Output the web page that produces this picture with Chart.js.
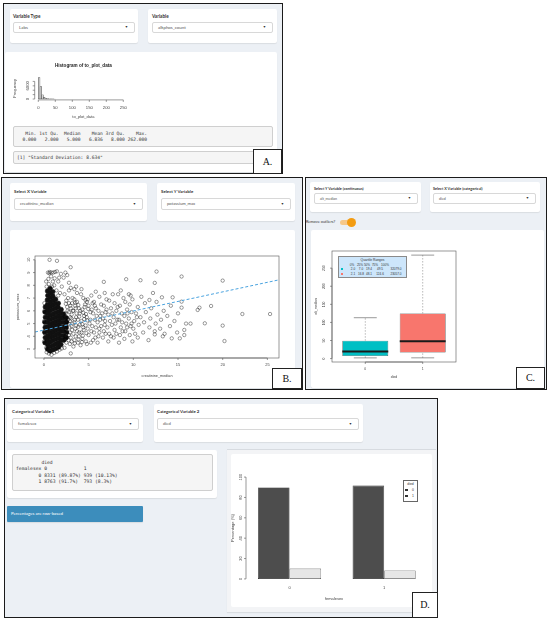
<!DOCTYPE html>
<html>
<head>
<meta charset="utf-8">
<script src="https://cdn.jsdelivr.net/npm/chart.js@4.4.0/dist/chart.umd.min.js"></script>
<style>
  html, body { margin: 0; padding: 0; background: #fff; }
  #page { position: relative; width: 550px; height: 623px; overflow: hidden; font-family: Lato, "Open Sans", sans-serif; color: #333; }
  #page div, #page canvas { position: absolute; box-sizing: border-box; }
  .panel { border: 1.5px solid #1b1b1b; background: #ecf0f5; }
  .card { background: #fff; border-radius: 2px; box-shadow: 0 1px 1px rgba(0,0,0,.08); }
  .lbl { font-weight: 700; white-space: nowrap; color: #333; }
  .sel { border: 1px solid #d8d8d8; border-radius: 2px; background: #fff; padding-left: 5px; color: #555; white-space: nowrap; }
  .sel::after { content: "\25BC"; position: absolute; right: 6px; top: 0; font-size: 3.4px; color: #333; }
  .pre { background: #f5f5f5; border: 0.8px solid #cfcfcf; border-radius: 2px; font-family: "DejaVu Sans Mono", monospace; white-space: pre; color: #333; }
  .tag { background: #fff; border: 1px solid #222; font-family: "Liberation Serif", serif; font-size: 10px; text-align: center; color: #111; }
  .t { white-space: nowrap; transform: translate(-50%, -50%); font-family: "Liberation Sans", Arial, sans-serif; color: #333; }
</style>
</head>
<body>
<div id="page"></div>
<script>
// ---------- A: histogram + summary ----------
const histMids = [2.5, 7.5, 12.5, 17.5, 22.5, 27.5, 32.5, 37.5, 42.5, 47.5];
const histCounts = [9700, 5600, 1900, 750, 360, 190, 110, 70, 45, 30];
const histXTicks = [0, 50, 100, 150, 200, 250];
const histYTicks = [0, 2000, 4000, 6000, 8000];
const histYLabels = ["0", "", "", "6000", ""];
const summaryNames = ["Min.", "1st Qu.", "Median", "Mean", "3rd Qu.", "Max."];
const summaryValues = ["0.000", "2.000", "5.000", "6.836", "8.000", "262.000"];
const sdValue = "8.634";

// ---------- B: scatter creatinine_median vs potassium_max ----------
// heavily overplotted core (drawn solid)
const kDense = [
  [0.12,3.5],[0.15,3.9],[0.1,4.3],[0.14,4.7],[0.11,5.1],[0.16,5.5],[0.12,5.9],[0.15,6.3],
  [0.4,3.0],[0.42,3.35],[0.38,3.7],[0.44,4.05],[0.4,4.4],[0.43,4.75],[0.39,5.1],[0.42,5.45],[0.4,5.8],[0.44,6.15],[0.41,6.5],[0.38,6.85],[0.43,7.2],[0.4,7.55],
  [0.7,2.85],[0.72,3.2],[0.68,3.55],[0.71,3.9],[0.74,4.25],[0.69,4.6],[0.72,4.95],[0.7,5.3],[0.73,5.65],[0.68,6.0],[0.71,6.35],[0.74,6.7],[0.7,7.05],[0.72,7.4],[0.69,7.75],
  [1.0,2.95],[1.02,3.3],[0.98,3.65],[1.01,4.0],[1.03,4.35],[0.99,4.7],[1.02,5.05],[1.0,5.4],[1.04,5.75],[0.98,6.1],[1.01,6.45],[1.03,6.8],[1.0,7.15],[0.99,7.5],
  [1.3,3.05],[1.32,3.4],[1.28,3.75],[1.31,4.1],[1.33,4.45],[1.29,4.8],[1.32,5.15],[1.3,5.5],[1.34,5.85],[1.28,6.2],[1.31,6.55],[1.3,6.9],
  [1.6,3.15],[1.62,3.5],[1.58,3.85],[1.61,4.2],[1.63,4.55],[1.59,4.9],[1.62,5.25],[1.6,5.6],[1.64,5.95],[1.58,6.3],[1.61,6.6],
  [1.9,3.35],[1.92,3.7],[1.88,4.05],[1.91,4.4],[1.93,4.75],[1.89,5.1],[1.92,5.45],[1.9,5.8],[1.93,6.1],
  [2.2,3.7],[2.22,4.05],[2.18,4.4],[2.21,4.75],[2.23,5.1],[2.19,5.45],[2.2,5.75],
  [2.5,3.9],[2.52,4.3],[2.48,4.7],[2.51,5.1],[2.5,5.45]
];
// individual circles
const kPoints = [
  [0.3,7.9],[0.55,8.1],[0.9,7.9],[1.15,8.0],[1.4,7.6],[1.6,7.2],[0.5,8.5],[0.8,8.7],[1.2,8.55],[0.45,9.0],[0.65,9.05],
  [0.85,9.0],[1.05,9.0],[1.25,9.05],[1.45,9.1],[0.6,8.95],[1.0,8.3],[1.7,8.6],[0.25,8.3],
  [0.3,2.75],[0.55,2.65],[0.85,2.55],[1.15,2.7],[1.45,2.8],[1.75,2.95],[2.0,3.05],[0.25,3.1],
  [0.02,3.6],[0.03,4.4],[0.02,5.2],[0.04,6.0],[0.05,6.6],
  [2.3,3.1],[2.5,3.5],[2.4,4.0],[2.6,4.4],[2.5,4.9],[2.7,5.3],[2.4,5.8],[2.6,6.3],[2.5,6.8],[2.3,7.3],[2.8,7.6],
  [2.9,3.4],[3.0,3.9],[2.9,4.3],[3.1,4.8],[2.9,5.2],[3.1,5.7],[3.0,6.2],[2.8,6.6],[3.2,7.0],
  [3.3,3.2],[3.4,3.7],[3.3,4.2],[3.5,4.6],[3.4,5.1],[3.6,5.5],[3.3,6.0],[3.5,6.4],[3.4,6.9],[3.7,7.4],
  [3.8,3.5],[3.9,4.0],[3.7,4.4],[4.0,4.9],[3.8,5.3],[4.0,5.8],[3.9,6.2],[3.7,6.7],
  [4.1,3.3],[4.3,3.8],[4.2,4.3],[4.4,4.7],[4.2,5.2],[4.5,5.6],[4.3,6.1],[4.6,6.5],[4.4,7.0],
  [1.8,7.4],[2.0,7.9],[1.6,8.3],[2.2,8.6],[2.6,8.8],[2.8,8.2],[3.0,7.8],[1.9,8.9],[2.4,9.0],[3.4,7.7],
  [2.35,3.75],[2.45,4.55],[2.55,5.15],[2.35,5.55],[2.65,6.0],[2.45,6.55],[2.7,7.0],[2.75,3.7],[2.8,4.1],[2.85,4.7],
  [2.75,5.0],[2.95,5.5],[2.8,5.9],[2.95,6.4],[3.1,3.6],[3.15,4.5],[3.2,5.0],[3.05,5.4],[3.25,6.0],[3.15,6.6],
  [3.45,3.45],[3.55,4.0],[3.6,4.85],[3.45,5.3],[3.65,5.8],[3.55,6.2],[3.5,6.65],[3.85,3.75],[3.95,4.3],[3.85,4.75],
  [3.95,5.55],[4.05,6.0],[3.85,6.45],[4.15,7.3],[4.25,3.55],[4.35,4.05],[4.45,4.5],[4.3,4.95],[4.5,5.35],[4.4,5.85],
  [4.55,6.3],[4.65,6.85],[4.7,3.6],[4.75,4.25],[4.65,4.85],[4.85,5.25],[4.7,5.75],[4.95,6.15],[4.8,6.7],
  [5.25,3.5],[5.3,4.4],[5.2,5.3],[5.35,6.1],[5.45,6.6],[5.75,3.9],[5.8,4.7],[5.9,5.6],[5.7,6.4],
  [6.2,4.3],[6.3,5.3],[6.5,5.8],[6.4,4.8],[6.9,4.2],[6.85,5.2],[7.0,6.1],[7.5,4.0],[7.6,4.9],[7.65,5.8],
  [8.1,4.2],[8.2,5.3],[8.25,6.3],[8.8,4.4],[8.75,5.1],[9.3,4.7],[9.35,5.8],[9.8,5.0],[10.2,4.2],[10.4,5.5],
  [3.6,7.9],[4.2,7.7],[5.8,7.5],[6.8,7.4],[8.6,7.6],[9.7,7.2],
  [4.8,3.4],[5.0,4.1],[4.9,4.6],[5.1,5.0],[4.8,5.5],[5.2,5.9],[5.0,6.4],[4.9,6.9],[5.3,7.2],
  [5.5,3.7],[5.6,4.3],[5.4,4.8],[5.7,5.3],[5.5,5.8],[5.8,6.2],[5.6,6.7],
  [6.0,3.5],[6.1,4.0],[6.2,4.6],[6.0,5.1],[6.3,5.6],[6.1,6.0],[6.4,6.5],[6.2,7.1],
  [6.6,3.9],[6.7,4.4],[6.8,4.9],[6.6,5.4],[6.9,5.9],[6.7,6.4],[7.0,6.9],
  [7.2,3.6],[7.3,4.2],[7.1,4.7],[7.4,5.2],[7.2,5.7],[7.5,6.2],[7.3,6.8],[7.7,7.3],
  [7.8,3.9],[7.9,4.5],[8.0,5.0],[7.8,5.5],[8.1,6.0],[7.9,6.6],[8.3,7.3],
  [8.4,3.5],[8.5,4.1],[8.6,4.7],[8.4,5.3],[8.7,5.8],[8.5,6.4],[8.9,7.0],
  [9.0,3.8],[9.1,4.4],[9.2,5.0],[9.0,5.6],[9.3,6.1],[9.1,6.7],[9.5,7.3],
  [9.6,4.1],[9.7,4.8],[9.5,5.4],[9.8,5.9],[9.6,6.5],[9.9,3.6],[10.0,4.6],[10.1,5.2],[9.9,6.9],[10.3,5.8],
  [10.5,3.9],[10.6,4.9],[10.8,5.5],[10.5,6.3],[10.9,7.1],[11.1,4.3],[11.2,5.1],[11.4,5.9],[11.3,6.6],
  [11.7,3.7],[11.8,4.7],[11.9,5.4],[12.0,6.2],[12.2,7.4],[12.4,4.4],[12.5,5.0],[12.7,5.7],[12.6,6.7],
  [13.0,4.6],[13.1,5.3],[13.4,6.0],[13.5,4.2],[13.8,5.6],[14.1,4.8],[14.2,6.4],[14.6,5.2],[14.9,4.3],[15.0,5.8],
  [0.63,10.0],[1.46,9.92],[2.99,9.42],[12.6,9.08],[15.4,8.69],[20.0,8.37],[6.7,8.27],[9.2,8.48],[10.8,8.4],[12.4,8.19],
  [22.2,5.75],[25.3,5.75],[20.0,4.84],[20.2,3.63],[18.0,5.02],[16.4,5.0],[15.9,5.0],[15.7,4.5],[15.7,4.1],[15.2,3.84],
  [14.3,3.84],[13.3,4.0],[12.4,4.15],[18.7,6.38],[17.4,6.25],[17.2,6.07],[15.4,6.25],[14.4,7.06],[15.4,6.72],[13.2,7.06],
  [11.8,6.85],[3.0,2.66]
];
const kLineX = [-1.0, 26.3];
const kLineY = [4.34, 8.43];
const scatXTicks = [0, 5, 10, 15, 20, 25];
const scatYTicks = [3, 4, 5, 6, 7, 8, 9, 10];

// ---------- C: boxplot alt_median by died ----------
const boxGroups = ["0", "1"];
const boxLow = [2.0, 2.1];
const boxQ1 = [7.0, 16.8];
const boxMed = [19.4, 48.1];
const boxQ3 = [49.5, 124.6];
const boxHigh = [113.0, 286.0];
const boxMax = [32079.0, 23057.0];
const boxYTicks = [0, 50, 100, 150, 200, 250];
const quartileHeads = ["0%", "25%", "50%", "75%", "100%"];

// ---------- D: femalesex x died ----------
const sexLevels = ["0", "1"];
const diedLevels = ["0", "1"];
const tabCounts = [[8331, 939], [8763, 793]];
const tabPct = [["89.87%", "10.13%"], ["91.7%", "8.3%"]];
const diedPct0 = [89.87, 91.7];
const diedPct1 = [10.13, 8.3];
const barYTicks = [0, 20, 40, 60, 80, 100];

// ---------- helpers ----------
const page = document.getElementById("page");
function add(cls, x1, y1, x2, y2, text, css) {
  const d = document.createElement("div");
  d.className = cls;
  Object.assign(d.style, { left: x1 + "px", top: y1 + "px", width: (x2 - x1) + "px", height: (y2 - y1) + "px" }, css || {});
  if (text != null) d.textContent = text;
  page.appendChild(d);
  return d;
}
function sel(x1, y1, x2, y2, text, fs) {
  return add("sel", x1, y1, x2, y2, text, { fontSize: fs + "px", lineHeight: (y2 - y1 - 2) + "px" });
}
function lbl(x, y, text, fs) {
  return add("lbl", x, y, x + 150, y + 6, text, { fontSize: fs + "px", lineHeight: "6px" });
}
function txt(x, y, s, fs, css) {
  const d = document.createElement("div");
  d.className = "t";
  Object.assign(d.style, { left: x + "px", top: y + "px", fontSize: fs + "px" }, css || {});
  d.textContent = s;
  page.appendChild(d);
  return d;
}
function tag(x1, y1, x2, y2, s) {
  return add("tag", x1, y1, x2, y2, s, { lineHeight: (y2 - y1 - 2) + "px" });
}
function makeCanvas(x1, y1, x2, y2) {
  const c = document.createElement("canvas");
  c.width = x2 - x1; c.height = y2 - y1;
  c.style.left = x1 + "px"; c.style.top = y1 + "px";
  page.appendChild(c);
  return c;
}

// R-like axes drawn through the chart scales
const rAxes = {
  id: "rAxes",
  afterDatasetsDraw(chart, args, o) {
    const { ctx, chartArea: a } = chart;
    const sx = chart.scales.x, sy = chart.scales.y;
    const font = (px, bold) => (bold ? "bold " : "") + px + 'px "Liberation Sans", Arial, sans-serif';
    const seg = (x1, y1, x2, y2) => { ctx.beginPath(); ctx.moveTo(x1, y1); ctx.lineTo(x2, y2); ctx.stroke(); };
    const vtext = (t, x, y) => { ctx.save(); ctx.translate(x, y); ctx.rotate(-Math.PI / 2); ctx.fillText(t, 0, 0); ctx.restore(); };
    ctx.save();
    ctx.strokeStyle = "#555"; ctx.fillStyle = "#444"; ctx.lineWidth = 0.6;
    ctx.textAlign = "center"; ctx.textBaseline = "middle";
    ctx.font = font(o.size);
    if (o.box) ctx.strokeRect(a.left, a.top, a.width, a.height);
    const xs = o.xTicks.map(v => sx.getPixelForValue(v));
    if (o.xLine) {
      seg(xs[0], a.bottom, xs[xs.length - 1], a.bottom);
      xs.forEach(p => seg(p, a.bottom, p, a.bottom + 2));
    }
    xs.forEach((p, i) => { if (o.xLabels[i]) ctx.fillText(o.xLabels[i], p, a.bottom + o.xGap); });
    const ys = o.yTicks.map(v => sy.getPixelForValue(v));
    seg(a.left, ys[0], a.left, ys[ys.length - 1]);
    ys.forEach(p => seg(a.left, p, a.left - 2, p));
    ys.forEach((p, i) => { if (o.yLabels[i]) vtext(o.yLabels[i], a.left - o.yGap, p); });
    ctx.font = font(o.titleSize);
    if (o.xTitle) ctx.fillText(o.xTitle, (a.left + a.right) / 2, a.bottom + o.xTitleGap);
    if (o.yTitle) vtext(o.yTitle, a.left - o.yTitleGap, (a.top + a.bottom) / 2);
    if (o.main) { ctx.font = font(o.mainSize, true); ctx.fillStyle = "#222"; ctx.fillText(o.main, (a.left + a.right) / 2, o.mainY); }
    ctx.restore();
  }
};

function baseOptions(pad, xr, yr, xTicks, axes) {
  return {
    responsive: false,
    animation: false,
    events: [],
    layout: { padding: pad },
    plugins: { legend: { display: false }, tooltip: { enabled: false }, rAxes: axes },
    scales: {
      x: { type: "linear", display: false, offset: false, min: xr[0], max: xr[1],
           afterBuildTicks: s => { s.ticks = xTicks.map(v => ({ value: v })); } },
      y: { type: "linear", display: false, min: yr[0], max: yr[1] }
    }
  };
}
function segs(list) {
  const out = [];
  list.forEach(([x1, y1, x2, y2]) => out.push({ x: x1, y: y1 }, { x: x2, y: y2 }, { x: x2, y: null }));
  return out;
}

// ================= PANEL A =================
add("panel", 3, 3, 283, 174);
add("card", 10, 9, 138, 43);
lbl(13, 13, "Variable Type", 4.6);
sel(13, 22, 135, 33, "Labs", 4.4);
add("card", 148, 9, 277, 43);
lbl(152, 13, "Variable", 4.6);
sel(152, 22, 273, 33, "alkphos_count", 4.4);
add("card", 5, 52, 277, 172);

new Chart(makeCanvas(5, 55, 160, 125), {
  type: "bar",
  data: { datasets: [{
    data: histMids.map((m, i) => ({ x: m, y: histCounts[i] })),
    backgroundColor: "#d9d9d9", borderColor: "#444", borderWidth: 0.5, borderSkipped: false,
    categoryPercentage: 1, barPercentage: 1
  }] },
  options: baseOptions({ left: 29.7, right: 28, top: 21.8, bottom: 25.1 }, [-10.6, 275.6], [-388, 10088], histXTicks, {
    size: 4.2, titleSize: 4, xTicks: histXTicks, xLabels: histXTicks.map(String), xLine: true, xGap: 7.5,
    yTicks: histYTicks, yLabels: histYLabels, yGap: 6.5,
    xTitle: "to_plot_data", xTitleGap: 17, yTitle: "Frequency", yTitleGap: 19.5,
    main: "Histogram of to_plot_data", mainSize: 4.6, mainY: 11
  }),
  plugins: [rAxes]
});

const w = Math.max(...summaryNames.concat(summaryValues).map(s => s.length));
const summaryText = summaryNames.map(s => s.padStart(w)).join(" ") + " \n" + summaryValues.map(s => s.padStart(w)).join(" ") + " ";
add("pre", 13, 126, 273, 147, summaryText, { fontSize: "4.6px", lineHeight: "5.6px", padding: "4px 3px" });
add("pre", 13, 151, 273, 164, '[1] "Standard Deviation: ' + sdValue + '"', { fontSize: "4.6px", lineHeight: "11px", padding: "0 3px" });
tag(253, 149, 282, 174, "A.");

// ================= PANEL B =================
add("panel", 1, 177, 303, 390);
add("card", 10, 183, 147, 221);
lbl(14, 189, "Select X Variable", 4.4);
sel(14, 198, 143, 210, "creatinine_median", 4.2);
add("card", 157, 183, 295, 221);
lbl(161, 189, "Select Y Variable", 4.4);
sel(161, 198, 291, 210, "potassium_max", 4.2);
add("card", 10, 230, 295, 388);

new Chart(makeCanvas(10, 230, 295, 388), {
  type: "scatter",
  data: { datasets: [
    { type: "line", data: kLineX.map((x, i) => ({ x, y: kLineY[i] })), borderColor: "#4aa3df", borderWidth: 1,
      borderDash: [3, 2], pointRadius: 0, fill: false },
    { data: kPoints.map(([x, y]) => ({ x, y })), pointRadius: 1.7, pointBorderWidth: 0.55,
      pointBorderColor: "rgba(0,0,0,0.72)", pointBackgroundColor: "rgba(0,0,0,0)" },
    { data: kDense.map(([x, y]) => ({ x, y })), pointRadius: 2.3, pointBorderWidth: 0.6,
      pointBorderColor: "#111", pointBackgroundColor: "#111" }
  ] },
  options: baseOptions({ left: 25, right: 16, top: 26, bottom: 30 }, [-1.0, 26.3], [2.3, 10.3], scatXTicks, {
    size: 4, titleSize: 3.8, box: true, xTicks: scatXTicks, xLabels: scatXTicks.map(String), xLine: true, xGap: 7,
    yTicks: scatYTicks, yLabels: scatYTicks.map(String), yGap: 6,
    xTitle: "creatinine_median", xTitleGap: 18, yTitle: "potassium_max", yTitleGap: 17
  }),
  plugins: [rAxes]
});
tag(272, 368, 302, 389, "B.");

// ================= PANEL C =================
add("panel", 305, 177, 547, 390);
add("card", 310, 182, 421, 212);
lbl(314, 186, "Select Y Variable (continuous)", 3.8);
sel(314, 193, 418, 204, "alt_median", 3.6);
add("card", 430, 182, 540, 212);
lbl(433, 186, "Select X Variable (categorical)", 3.8);
sel(433, 193, 536, 204, "died", 3.6);
add("t", 306, 219, 345, 225, "Remove outliers?", { transform: "none", fontSize: "3.9px", lineHeight: "6px", fontFamily: "Lato, sans-serif" });
add("card", 340, 220, 352, 225, null, { background: "#f6c88a", borderRadius: "3px", boxShadow: "none" });
add("card", 347, 218, 356, 227, null, { background: "#f39c12", borderRadius: "50%", boxShadow: "none" });
add("card", 311, 230, 544, 388);

new Chart(makeCanvas(311, 230, 544, 388), {
  type: "bar",
  data: { datasets: [
    { type: "line", data: segs(boxGroups.map((g, i) => [i + 0.6, boxMed[i], i + 1.4, boxMed[i]])),
      borderColor: "#1a1a1a", borderWidth: 2, pointRadius: 0, spanGaps: false },
    { type: "line", data: segs(boxGroups.flatMap((g, i) => [[i + 0.8, boxHigh[i], i + 1.2, boxHigh[i]], [i + 0.8, boxLow[i], i + 1.2, boxLow[i]]])),
      borderColor: "#555", borderWidth: 0.6, pointRadius: 0, spanGaps: false },
    { type: "line", data: segs(boxGroups.flatMap((g, i) => [[i + 1, boxQ3[i], i + 1, boxHigh[i]], [i + 1, boxLow[i], i + 1, boxQ1[i]]])),
      borderColor: "#888", borderWidth: 0.6, borderDash: [1.5, 1.5], pointRadius: 0, spanGaps: false },
    { data: boxGroups.map((g, i) => ({ x: i + 1, y: [boxQ1[i], boxQ3[i]] })),
      backgroundColor: ["#00BFC4", "#F8766D"], borderColor: "#333", borderWidth: 0.6, borderSkipped: false,
      categoryPercentage: 0.8, barPercentage: 1 }
  ] },
  options: baseOptions({ left: 21, right: 88, top: 21, bottom: 26 }, [0.42, 2.58], [-9.4, 297.4], [1, 2], {
    size: 3.4, titleSize: 3.4, box: true, xTicks: [1, 2], xLabels: boxGroups, xLine: true, xGap: 7,
    yTicks: boxYTicks, yLabels: boxYTicks.map(String), yGap: 7.5,
    xTitle: "died", xTitleGap: 15, yTitle: "alt_median", yTitleGap: 16
  }),
  plugins: [rAxes]
});

// quartile legend
add("card", 338, 256, 407, 278, null, { background: "#cde6fb", border: "0.6px solid #8a8a8a", borderRadius: "0", boxShadow: "none" });
txt(372.5, 259.8, "Quartile Ranges", 3.3);
const headX = [352, 360, 367, 375, 385];
const valX = [353, 361, 369, 380, 396];
quartileHeads.forEach((h, i) => txt(headX[i], 265, h, 3.1));
const quartRows = boxGroups.map((g, i) => [boxLow[i], boxQ1[i], boxMed[i], boxQ3[i], boxMax[i]]);
const rowCol = ["#00BFC4", "#F8766D"];
quartRows.forEach((r, j) => {
  const yy = 269.3 + j * 4.4;
  add("card", 341, yy - 1.2, 343.4, yy + 1.2, null, { background: rowCol[j], borderRadius: "0", boxShadow: "none" });
  r.forEach((v, i) => txt(valX[i], yy, v.toFixed(1), 3.1));
});
tag(516, 367, 545, 389, "C.");

// ================= PANEL D =================
add("panel", 4, 398, 438, 618);
add("card", 7, 404, 143, 442);
lbl(12, 409, "Categorical Variable 1", 4.4);
sel(12, 418, 139, 430, "femalesex", 4.2);
add("card", 154, 404, 363, 442);
lbl(157, 409, "Categorical Variable 2", 4.4);
sel(157, 418, 359, 430, "died", 4.2);
add("card", 7, 450, 217, 498);

const cells = tabCounts.map((r, i) => r.map((c, j) => c + " (" + tabPct[i][j] + ")"));
const cw = Math.max(...cells.flat().map(s => s.length));
const tabLines = [
  " ".repeat(9) + "died",
  "femalesex " + diedLevels.map(s => s.padEnd(cw)).join(" ").trimEnd(),
  ...sexLevels.map((s, i) => s.padStart(9) + " " + cells[i].map(c => c.padEnd(cw)).join(" ").trimEnd())
];
add("pre", 12, 454, 213, 491, tabLines.join("\n"), { fontSize: "4.7px", lineHeight: "6.3px", padding: "5px 3px" });
add("card", 7, 506, 143, 522, "Percentages are row-based",
    { background: "#3c8dbc", color: "#fff", fontSize: "4.4px", lineHeight: "16px", paddingLeft: "4px", borderRadius: "1px", whiteSpace: "nowrap" });
add("card", 227, 449, 436, 612, null, { background: "#f3f4f6", borderTop: "1px solid #d7dbe0", borderRadius: "0" });
add("card", 231, 454, 432, 607, null, { boxShadow: "none" });

new Chart(makeCanvas(231, 454, 432, 607), {
  type: "bar",
  data: { datasets: [
    { label: diedLevels[0], data: sexLevels.map((s, i) => ({ x: 2 + 3 * i, y: diedPct0[i] })),
      backgroundColor: "#4D4D4D", borderColor: "#222", borderWidth: 0.6, borderSkipped: false,
      categoryPercentage: 2 / 3, barPercentage: 1 },
    { label: diedLevels[1], data: sexLevels.map((s, i) => ({ x: 2 + 3 * i, y: diedPct1[i] })),
      backgroundColor: "#E6E6E6", borderColor: "#444", borderWidth: 0.6, borderSkipped: false,
      categoryPercentage: 2 / 3, barPercentage: 1 }
  ] },
  options: baseOptions({ left: 15, right: 10, top: 19, bottom: 24 }, [0.62, 6.2], [-4, 104], [2, 5], {
    size: 4, titleSize: 4, xTicks: [2, 5], xLabels: sexLevels, xLine: false, xGap: 5,
    yTicks: barYTicks, yLabels: barYTicks.map(String), yGap: 5,
    xTitle: "femalesex", xTitleGap: 16, yTitle: "Percentage (%)", yTitleGap: 13
  }),
  plugins: [rAxes]
});

// legend "died"
add("card", 403, 480, 418, 502, null, { border: "0.6px solid #666", borderRadius: "0", boxShadow: "none" });
txt(410.5, 484, "died", 3.4);
const legFill = ["#4D4D4D", "#E6E6E6"];
diedLevels.forEach((d, i) => {
  const yy = 490 + i * 6;
  add("card", 405.2, yy - 1.3, 407.8, yy + 1.3, null, { background: legFill[i], border: "0.5px solid #333", borderRadius: "0", boxShadow: "none" });
  txt(413, yy, d, 3.4);
});
tag(412, 592, 438, 618, "D.");
</script>
</body>
</html>
